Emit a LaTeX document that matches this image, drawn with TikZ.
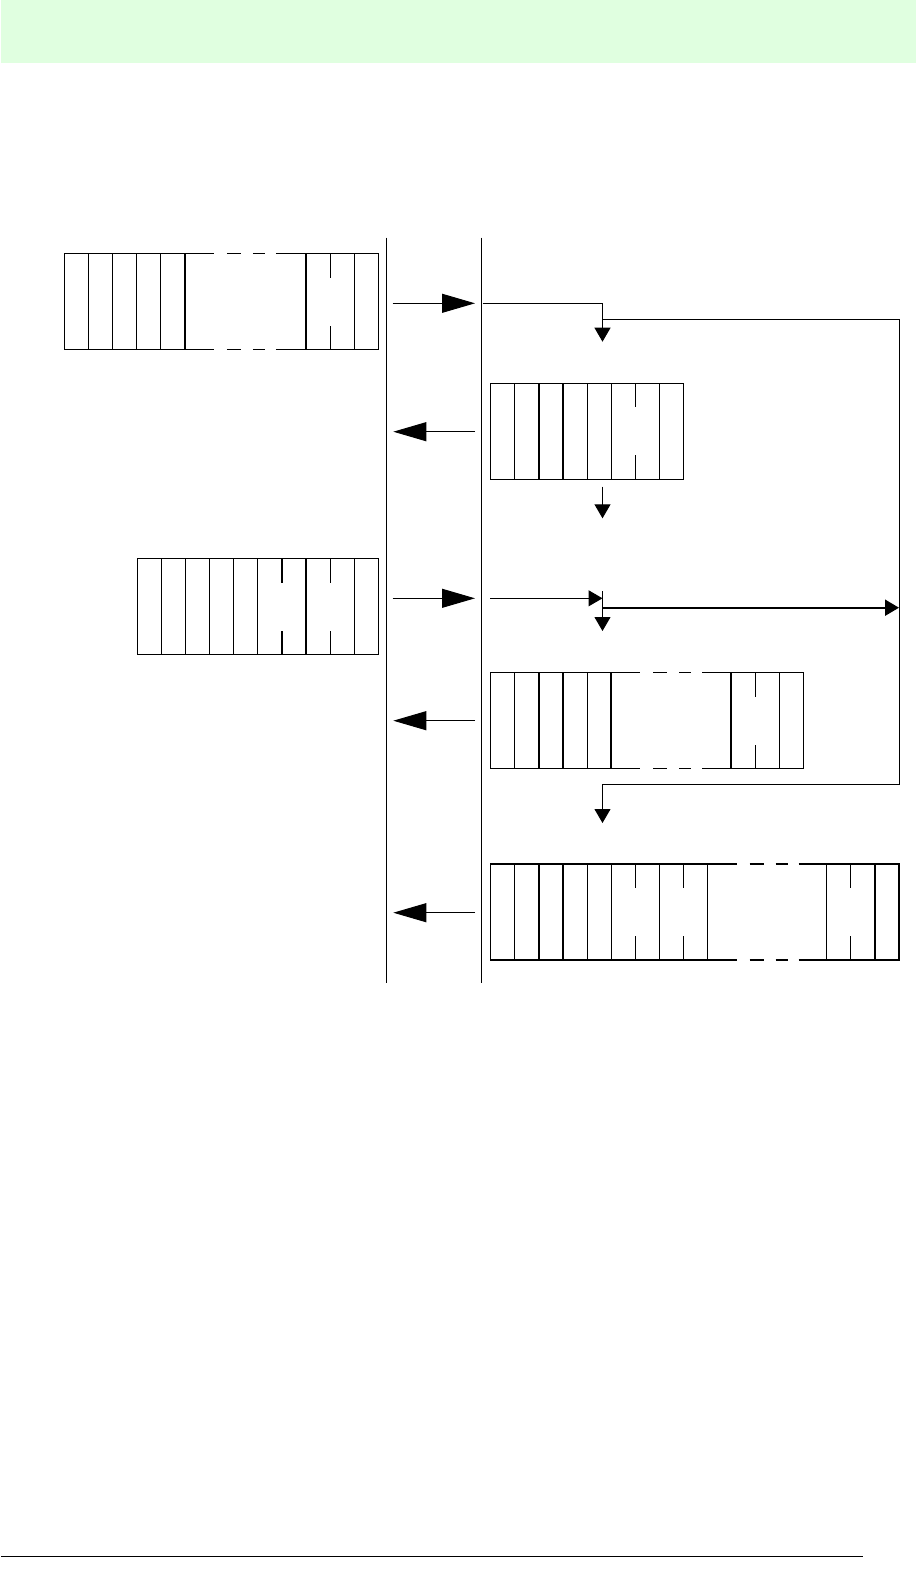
\documentclass[tikz,border=0pt]{standalone}
\usepackage{tikz}
\usetikzlibrary{arrows.meta}
\definecolor{bandgreen}{HTML}{E0FFE0}
\newcommand{\cellw}{24.1pt}
\newcommand{\plaindiv}[2]{\draw[cell] ([xshift=#2*\cellw]#1.north west) -- ([xshift=#2*\cellw]#1.south west);}
\newcommand{\splitdiv}[2]{\draw[cell] ([xshift=#2*\cellw]#1.north west) -- ++(0,24) ([xshift=#2*\cellw]#1.south west) -- ++(0,-24);}

\begin{document}
\begin{tikzpicture}[x=1pt, y=-1pt,
  frame/.style={draw, line width=1.5pt, minimum height=96pt, inner sep=0pt, outer sep=0pt, anchor=north west},
  cell/.style={line width=1.2pt},
  gap/.style={line width=1.5pt, dash pattern=on 29pt off 13pt on 14pt off 12pt on 12pt off 11pt on 60pt off 1pt},
  rail/.style={line width=1pt},
  flow/.style={-{Triangle[length=33pt,width=19pt]}, line width=1pt},
  link/.style={-{Triangle[length=14pt,width=16pt]}, line width=1pt}
]
\useasboundingbox (0,0) rectangle (916,1583);
\fill[bandgreen] (1,0) rectangle (916,62.5);
\draw[line width=1pt] (1,1556) -- (863,1556);

% the two rails
\draw[rail] (386.7,237.5) -- (386.7,983);
\draw[rail] (481.7,237.5) -- (481.7,983);

% frames
\node[frame, minimum width={5*\cellw}] (f1a) at (64.3,253.5) {};
\node[frame, minimum width={3*\cellw}] (f1b) at (306,253.5) {};
\node[frame, minimum width={8*\cellw}] (f2) at (490.7,383.3) {};
\node[frame, minimum width={10*\cellw}] (f3) at (137.3,558.5) {};
\node[frame, minimum width={5*\cellw}] (f4a) at (490.7,672.5) {};
\node[frame, minimum width={3*\cellw}] (f4b) at (731,672.5) {};
\node[frame, minimum width={9*\cellw}] (f5a) at (490.7,864) {};
\node[frame, minimum width={3*\cellw}] (f5b) at (826.7,864) {};

% broken frame edges
\foreach \a/\b in {f1a/f1b, f4a/f4b, f5a/f5b} {
  \draw[gap] (\a.north east) -- (\b.north west);
  \draw[gap] (\a.south east) -- (\b.south west);
}

% cell dividers
\foreach \k in {1,...,4} {\plaindiv{f1a}{\k}}
\splitdiv{f1b}{1} \plaindiv{f1b}{2}
\foreach \k in {1,...,5,7} {\plaindiv{f2}{\k}}
\splitdiv{f2}{6}
\foreach \k in {1,...,5,7,9} {\plaindiv{f3}{\k}}
\splitdiv{f3}{6} \splitdiv{f3}{8}
\foreach \k in {1,...,4} {\plaindiv{f4a}{\k}}
\splitdiv{f4b}{1} \plaindiv{f4b}{2}
\foreach \k in {1,...,5,7} {\plaindiv{f5a}{\k}}
\splitdiv{f5a}{6} \splitdiv{f5a}{8}
\splitdiv{f5b}{1} \plaindiv{f5b}{2}

% arrows between the rails
\coordinate (m1s) at (392.7,303.3);  \coordinate (m1e) at (475,303.3);
\coordinate (m2s) at (475,431.7);    \coordinate (m2e) at (393.3,431.7);
\coordinate (m3s) at (392.7,598.3);  \coordinate (m3e) at (475,598.3);
\coordinate (m4s) at (475,720.7);    \coordinate (m4e) at (393.3,720.7);
\coordinate (m5s) at (475,912.7);    \coordinate (m5e) at (393.3,912.7);
\draw[flow] (m1s) -- (m1e);
\draw[flow] (m2s) -- (m2e);
\draw[flow] (m3s) -- (m3e);
\draw[flow] (m4s) -- (m4e);
\draw[flow] (m5s) -- (m5e);

% routing on the right
\coordinate (p1s) at (482.7,303.3);  \coordinate (p1e) at (602.5,341.7);
\coordinate (p2s) at (602.5,319.3);  \coordinate (p2c) at (899,784.3);
\coordinate (p2e) at (602.5,823);
\coordinate (p3s) at (602.5,486.7);  \coordinate (p3e) at (602.5,518.3);
\coordinate (p4s) at (490,598.3);    \coordinate (p4e) at (602.5,598.3);
\coordinate (p5s) at (602.5,591);    \coordinate (p5e) at (602.5,631);
\coordinate (p6s) at (602.5,607.7);  \coordinate (p6e) at (899,607.7);
\draw[link] (p1s) -| (p1e);
\draw[link] (p2s) -| (p2c) -| (p2e);
\draw[link] (p3s) -- (p3e);
\draw[link] (p4s) -- (p4e);
\draw[link] (p5s) -- (p5e);
\draw[link, line width=2pt] (p6s) -- (p6e);
\end{tikzpicture}
\end{document}
